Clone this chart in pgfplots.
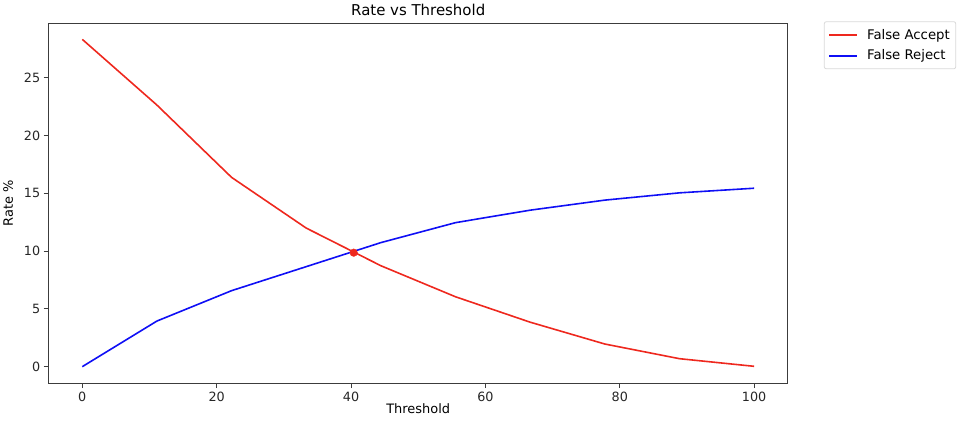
\documentclass[border=0pt]{standalone}
\usepackage{fontspec}
\setmainfont{DejaVu Sans}
\usepackage{pgfplots}
\pgfplotsset{compat=1.18}
\definecolor{fared}{RGB}{238,40,30}
\definecolor{frblue}{RGB}{15,15,245}
\definecolor{framegray}{RGB}{60,60,60}
\begin{document}
\begin{tikzpicture}[x=1bp,y=1bp]
\useasboundingbox (0,0) rectangle (957,423);
\begin{axis}[
  at={(48.7bp,40bp)}, anchor=south west,
  scale only axis,
  width=739bp, height=359bp,
  xmin=-5, xmax=105,
  ymin=-1.415, ymax=29.67,
  xtick={0,20,40,60,80,100},
  ytick={0,5,10,15,20,25},
  tick pos=left,
  tick align=outside,
  major tick length=5bp,
  every tick/.style={framegray, line width=0.9bp},
  axis line style={framegray, line width=1bp},
  /pgf/number format/assume math mode=true,
  tick label style={font=\fontsize{12.8}{14}\selectfont, text=black!85},
  xticklabel style={yshift=-1bp},
  title={Rate vs Threshold},
  title style={font=\fontsize{15}{17}\selectfont, yshift=-1bp},
  xlabel={Threshold},
  ylabel={Rate \%},
  label style={font=\fontsize{13}{15}\selectfont},
  xlabel style={yshift=5bp},
  ylabel style={yshift=4bp},
  legend style={at={(1.049,1.0075)}, anchor=north west,
    draw=black!15, rounded corners=2bp, line width=0.8bp,
    font=\fontsize{13.3}{15}\selectfont,
    inner xsep=4bp, inner ysep=5.5bp, row sep=5bp},
  legend cell align=left,
  legend image code/.code={\draw[#1, line width=2bp] (0bp,0bp) -- (28bp,0bp); \path (0bp,0bp) (35bp,0bp);},
]
\addplot[fared, line width=1.6bp] coordinates {
(0,28.34) (11.11,22.65) (22.22,16.39) (33.33,12.0) (44.44,8.74)
(55.56,6.05) (66.67,3.85) (77.78,1.96) (88.89,0.69) (100,0.03)};
\addlegendentry{False Accept}
\addplot[frblue, line width=1.6bp] coordinates {
(0,0) (11.11,3.95) (22.22,6.58) (33.33,8.66) (44.44,10.74)
(55.56,12.47) (66.67,13.55) (77.78,14.42) (88.89,15.05) (100,15.45)};
\addlegendentry{False Reject}
\addplot[only marks, mark=*, mark size=3.8bp, fared, forget plot] coordinates {(40.4,9.87)};
\end{axis}
\end{tikzpicture}
\end{document}
